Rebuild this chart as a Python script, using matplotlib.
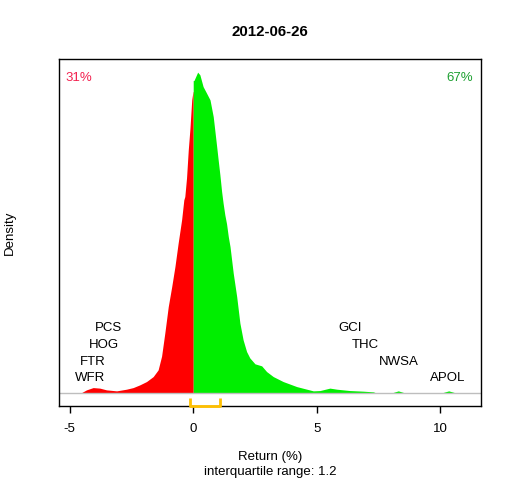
import numpy as np
import matplotlib
matplotlib.use("Agg")
import matplotlib.pyplot as plt

plt.rcParams['font.family'] = ['Liberation Sans', 'DejaVu Sans']

title = "2012-06-26"
date_sub = "interquartile range: 1.2"

# estimated kernel density of returns (%)
ret_x = [-4.56, -4.32, -4.05, -3.78, -3.51, -3.10, -2.70, -2.43, -2.16, -1.89,
         -1.62, -1.42, -1.28, -1.15, -1.01, -0.87, -0.74, -0.61, -0.47, -0.38,
         -0.34, -0.27, -0.20, -0.13, -0.06, -0.01,
         0.03, 0.18, 0.27, 0.40, 0.54, 0.68, 0.81, 0.88, 0.95, 1.01,
         1.08, 1.15, 1.21, 1.28, 1.35, 1.42, 1.49, 1.62, 1.76, 1.89,
         2.02, 2.16, 2.29, 2.50, 2.77, 2.97, 3.24, 3.64, 4.19, 4.86,
         5.13, 5.53, 5.81, 6.34, 6.88, 7.29, 7.43,
         8.00, 8.30, 8.60, 10.02, 10.34, 10.66]
dens = [0.0, 0.0043, 0.0073, 0.0066, 0.0043, 0.0030, 0.0052, 0.0073, 0.0109, 0.0152,
        0.0217, 0.0305, 0.0485, 0.0786, 0.1134, 0.1396, 0.1658, 0.1965, 0.2270, 0.2532,
        0.2575, 0.2820, 0.3187, 0.3475, 0.3842, 0.3951,
        0.4095, 0.4205, 0.4170, 0.4016, 0.3930, 0.3842, 0.3623, 0.3427, 0.3230, 0.3056,
        0.2860, 0.2641, 0.2489, 0.2336, 0.2218, 0.2051, 0.1920, 0.1572, 0.1265, 0.0917,
        0.0698, 0.0545, 0.0462, 0.0384, 0.0358, 0.0283, 0.0217, 0.0152, 0.0086, 0.0030,
        0.0034, 0.0066, 0.0052, 0.0034, 0.0026, 0.0017, 0.0,
        0.0, 0.0030, 0.0, 0.0, 0.0030, 0.0]

# extreme stocks labelled
tickers = ["WFR", "FTR", "HOG", "PCS", "GCI", "THC", "NWSA", "APOL"]
ticker_ret = [-4.18, -4.05, -3.60, -3.44, 6.37, 6.96, 8.34, 10.28]
ticker_level = [1, 2, 3, 4, 4, 3, 2, 1]

pct_down = "31%"
pct_up = "67%"
iqr_lo, iqr_hi = -0.12, 1.08
xticks = [-5, 0, 5, 10]

x = np.array(ret_x)
d = np.array(dens)

fs = 9.5

fig = plt.figure(figsize=(5.12, 4.8), dpi=100)
ax = fig.add_axes([59.3/512, 1-406/480, (481.3-59.3)/512, (406-59.3)/480])

neg = x < 0
xr = np.append(x[neg], 0.0)
dr = np.append(d[neg], d[neg][-1])
xg = np.insert(x[~neg], 0, 0.0)
dg = np.insert(d[~neg], 0, d[~neg][0])
ax.fill_between(xr, 0, dr, color="#FF0000", lw=0)
ax.fill_between(xg, 0, dg, color="#00EE00", lw=0)

ymax = d.max()
ypad = 0.04 * ymax
ax.set_xlim(-5.42, 11.66)
ax.set_ylim(-ypad, ymax + ypad)
ax.axhline(0, color="#BEBEBE", lw=1)

step = ymax * 0.0523
for t, r, lv in zip(tickers, ticker_ret, ticker_level):
    ax.text(r, step * lv - step * 0.12, t, ha="center", va="center", fontsize=fs)

ax.text(0.047, 0.947, pct_down, transform=ax.transAxes, ha="center", va="center",
        fontsize=fs, color="#F2204E")
ax.text(0.948, 0.947, pct_up, transform=ax.transAxes, ha="center", va="center",
        fontsize=fs, color="#1EA032")

# IQR bracket
yb0 = -ypad
yb1 = -ypad * 0.4
ax.plot([iqr_lo, iqr_lo, iqr_hi, iqr_hi], [yb1, yb0, yb0, yb1],
        color="#FFC000", lw=2, clip_on=False, zorder=5, solid_capstyle="butt")

ax.set_xticks(xticks)
ax.set_xticklabels([str(v) for v in xticks], fontsize=fs)
ax.set_yticks([])
ax.tick_params(axis="x", length=5, width=1, pad=7)
for s in ax.spines.values():
    s.set_linewidth(1)
    s.set_color("black")

fig.text(270.3/512, 1-32/480, title, ha="center", va="center", fontsize=10.8, fontweight="bold")
fig.text(270.3/512, 1-456.7/480, "Return (%)", ha="center", va="center", fontsize=fs)
fig.text(270.3/512, 1-471.7/480, date_sub, ha="center", va="center", fontsize=fs)
fig.text(10/512, 1-232.7/480, "Density", ha="center", va="center", fontsize=fs, rotation=90)

fig.savefig("out.png", dpi=100)
